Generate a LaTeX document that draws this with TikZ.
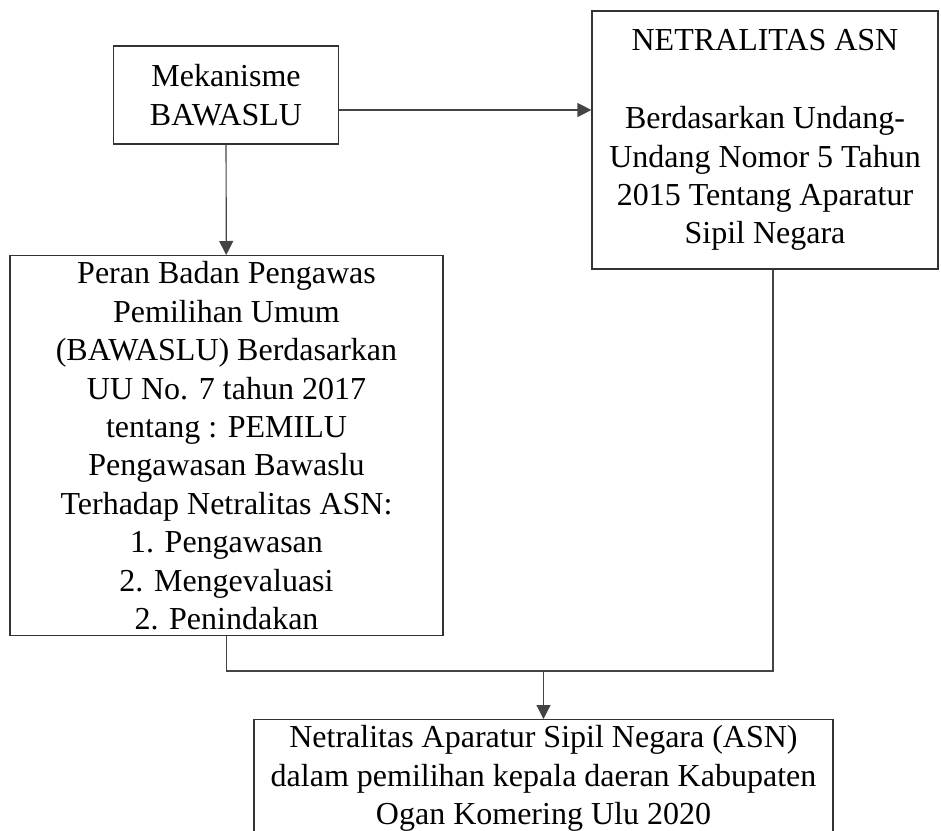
\documentclass[tikz,border=0pt]{standalone}
\usepackage{fontspec}
\setmainfont{Liberation Serif}
\usepackage{tikz}
\usetikzlibrary{arrows.meta,positioning,calc}
\definecolor{boxline}{HTML}{333333}
\definecolor{connline}{HTML}{444444}
\tikzset{
  >={Triangle[length=7pt,width=7pt]},
  % kotak
  kotak/.style={draw=boxline,line width=0.6pt,align=center,inner xsep=2pt,
                inner ysep=3pt,font=\fontsize{16}{19.2}\selectfont},
  % garis
  garis/.style={draw=connline,line width=0.6pt},
  panah/.style={->,draw=connline,line width=0.6pt},
}
\begin{document}
\begin{tikzpicture}[x=0.5pt,y=-0.5pt]
\useasboundingbox (0,0) rectangle (941,830);
  \node[kotak,minimum width=112.5pt,minimum height=49pt] (mek) at (226,95)
    {Mekanisme\\BAWASLU};
  \node[kotak,minimum width=173pt,minimum height=129pt] (net) at (765,140)
    {NETRALITAS ASN\\[20pt]Berdasarkan Undang-\\Undang Nomor 5 Tahun\\2015 Tentang Aparatur\\Sipil Negara};
  \node[kotak,minimum width=216.5pt,anchor=north] (peran) at (226.5,255)
    {Peran Badan Pengawas\\Pemilihan Umum\\(BAWASLU) Berdasarkan\\UU No. 7 tahun 2017\\tentang : PEMILU\\Pengawasan Bawaslu\\Terhadap Netralitas ASN:\\1. Pengawasan\\2. Mengevaluasi\\2. Penindakan};
  \node[kotak,minimum width=289.5pt,anchor=north] (asn) at (543.5,719)
    {Netralitas Aparatur Sipil Negara (ASN)\\dalam pemilihan kepala daeran Kabupaten\\Ogan Komering Ulu 2020};
  \coordinate (hy) at (0,110);
  \coordinate (j) at (773,671);
  \draw[panah] (mek.east |- hy) -- (net.west |- hy);
  \draw[panah] (mek) -- (peran);
  \draw[garis] (peran.south) |- (j) -- (j |- net.south);
  \draw[panah] (asn.north |- j) -- (asn.north);
\end{tikzpicture}
\end{document}
